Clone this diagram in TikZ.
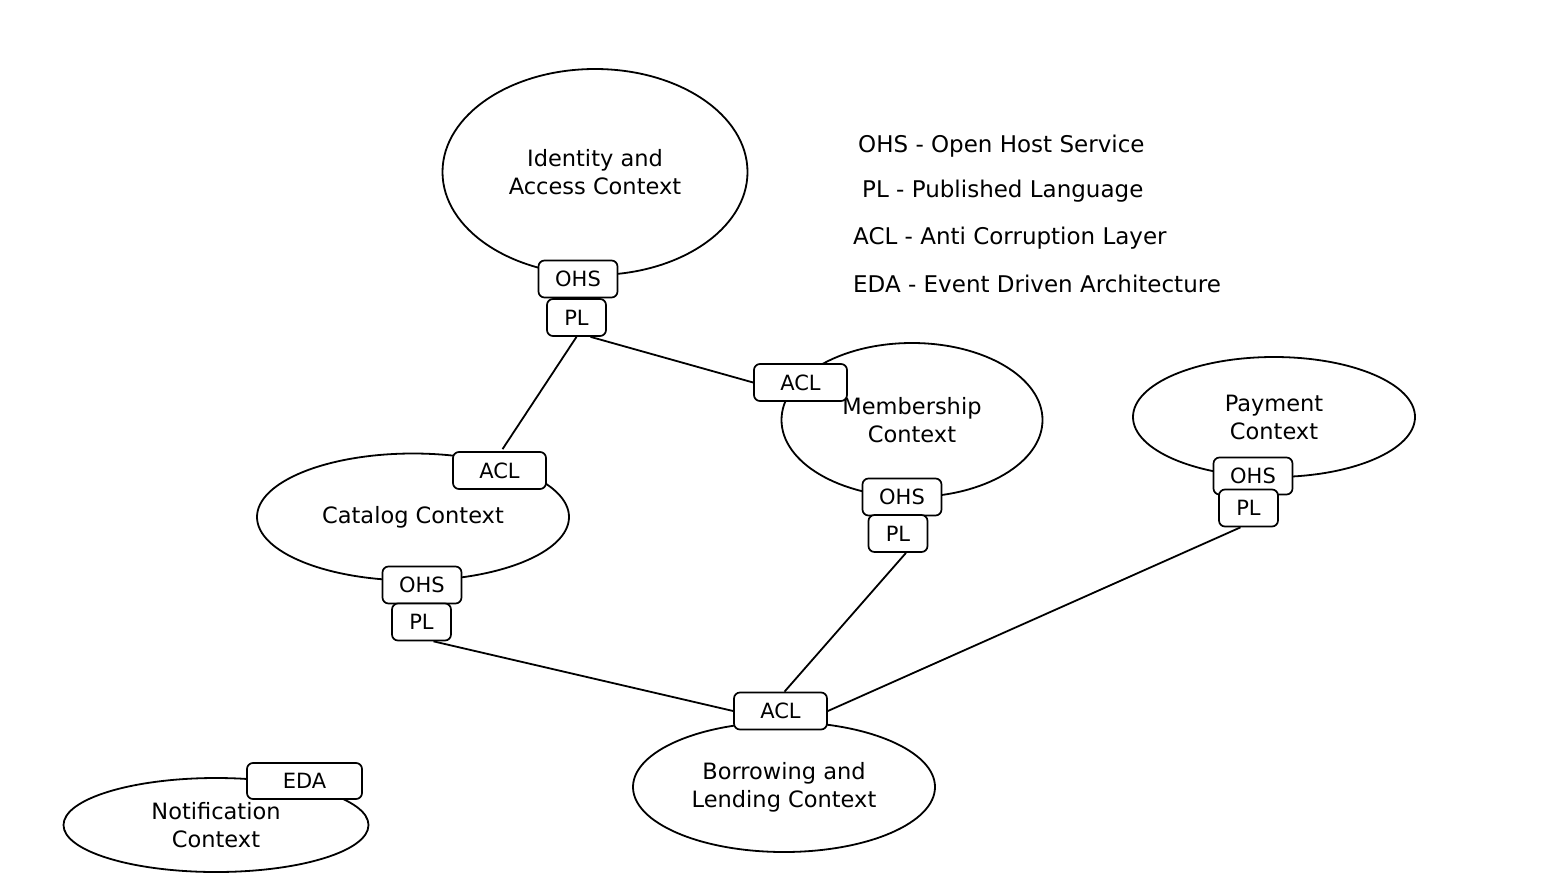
\documentclass[tikz,border=0pt]{standalone}
\usepackage{fontspec}
\setmainfont{DejaVu Sans}
\usetikzlibrary{shapes.geometric}
\begin{document}
\begin{tikzpicture}[x=1pt,y=-1pt,
  ctx/.style={ellipse,draw=black,line width=1.8pt,inner sep=0pt,align=center,font=\fontsize{22.5}{28}\selectfont},
  tag/.style={rectangle,rounded corners=6pt,draw=black,fill=white,line width=1.7pt,inner sep=0pt,font=\fontsize{21}{24}\selectfont},
  ohsbox/.style={tag,minimum width=79pt,minimum height=37pt},
  plbox/.style={tag,minimum width=59pt,minimum height=37pt},
  aclbox/.style={tag,minimum width=93pt,minimum height=37pt},
  edabox/.style={tag,minimum width=115pt,minimum height=36pt},
  conn/.style={draw=black,line width=1.8pt},
  legend/.style={anchor=west,font=\fontsize{23}{26}\selectfont,inner sep=0pt}]
\useasboundingbox[fill=white] (0,0) rectangle (1547,876);
% contexts
\node[ctx,minimum width=305pt,minimum height=206pt] (ident) at (595,172) {Identity and\\Access Context};
\node[ctx,minimum width=261pt,minimum height=154pt] (memb) at (912,420) {Membership\\Context};
\node[ctx,minimum width=282pt,minimum height=120pt] (pay) at (1274,417) {Payment\\Context};
\node[ctx,minimum width=312pt,minimum height=127pt] (cat) at (413,517) {Catalog Context};
\node[ctx,minimum width=302pt,minimum height=130pt] (borr) at (784,787) {Borrowing and\\Lending Context};
\node[ctx,minimum width=305pt,minimum height=94pt] (notif) at (216,825) {Notification\\Context};
% tags
\node[ohsbox] (idohs) at (578,279) {OHS};
\node[plbox] (idpl) at (576.5,317.5) {PL};
\node[aclbox] (memacl) at (800.5,382.5) {ACL};
\node[ohsbox] (memohs) at (902,497) {OHS};
\node[plbox] (mempl) at (898,533.5) {PL};
\node[ohsbox] (payohs) at (1253,476) {OHS};
\node[plbox] (paypl) at (1248.5,508) {PL};
\node[aclbox] (catacl) at (499.5,470.5) {ACL};
\node[ohsbox] (catohs) at (422,585) {OHS};
\node[plbox] (catpl) at (421.5,622) {PL};
\node[aclbox] (bacl) at (780.5,711) {ACL};
\node[edabox] (eda) at (304.5,781) {EDA};
% connectors
\draw[conn] (idpl.south) -- ([xshift=3pt,yshift=2pt]catacl.north);
\draw[conn] ([xshift=14pt]idpl.south) -- (memacl.west);
\draw[conn] ([xshift=12pt]catpl.south) -- (bacl.west);
\draw[conn] ([xshift=8pt]mempl.south) -- ([xshift=4pt]bacl.north);
\draw[conn] ([xshift=-8pt]paypl.south) -- (bacl.east);
% legend
\node[legend] (l1) at (858,146) {OHS - Open Host Service};
\node[legend] (l2) at (862,191) {PL - Published Language};
\node[legend] (l3) at (853,238) {ACL - Anti Corruption Layer};
\node[legend] (l4) at (853,284) {EDA - Event Driven Architecture};
\end{tikzpicture}
\end{document}
